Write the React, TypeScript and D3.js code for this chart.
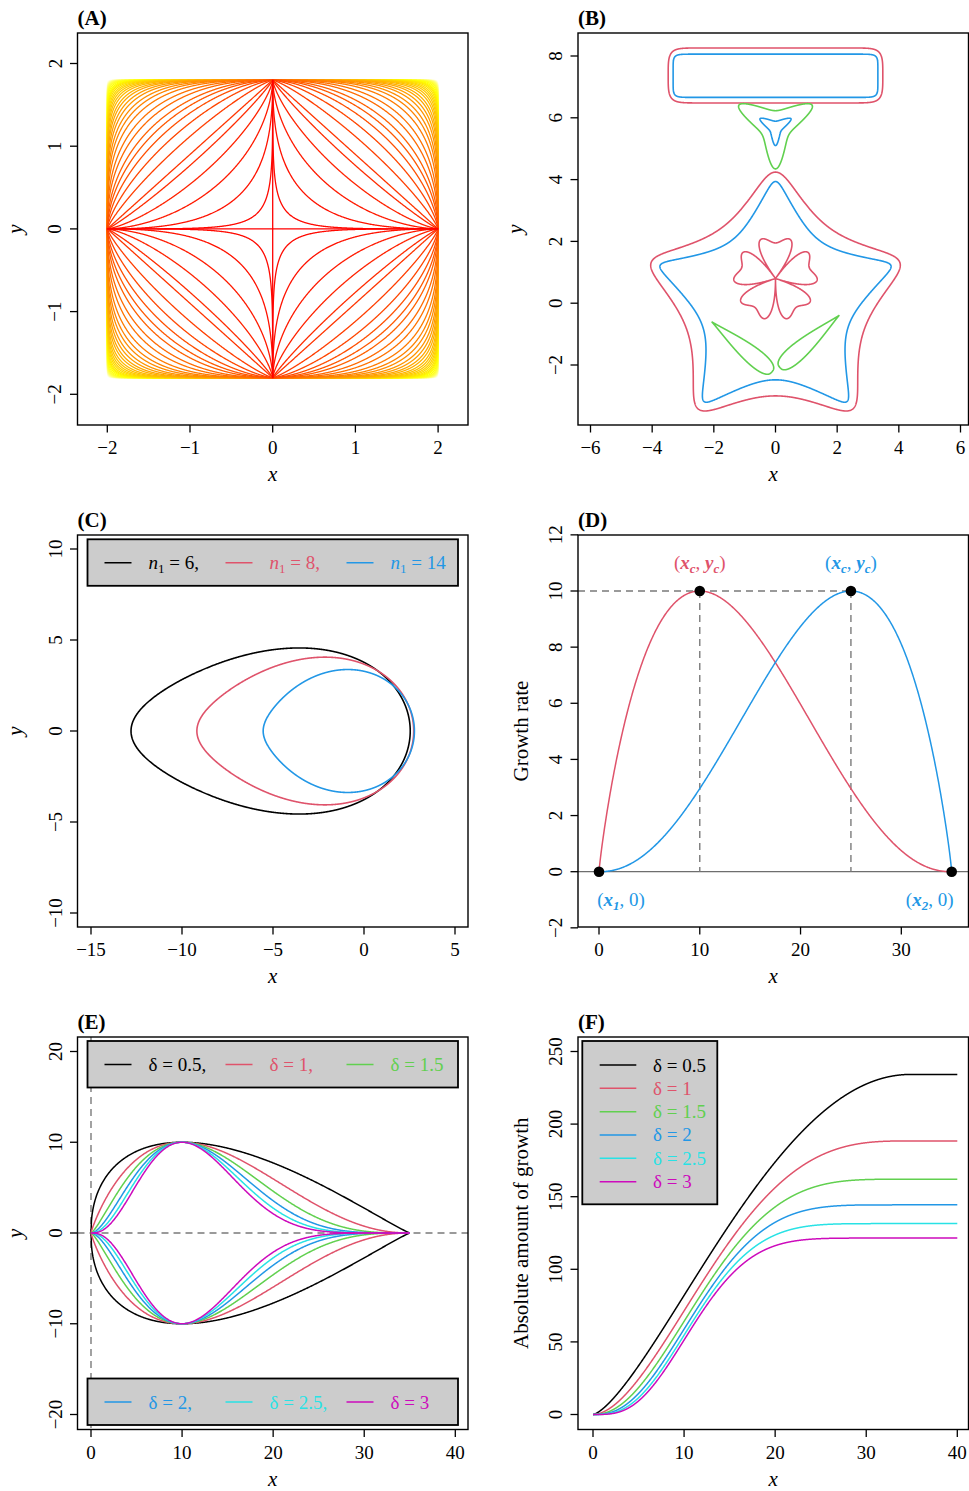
import * as d3 from 'd3';

const FONT = '"Liberation Serif", "Times New Roman", Times, serif';
const BLACK = '#000000';
const RED = '#DF536B';
const GREEN = '#61D04F';
const BLUE = '#2297E6';
const CYAN = '#28E2E5';
const MAGENTA = '#CD0BBC';
const DASH = '#7A7A7A';
const LEGEND_BG = '#CCCCCC';

// (A) superellipses |x/a|^n + |y/b|^n = 1
const superA = 2;
const superB = 1.8;
const superN = [
  0.1, 0.3, 0.45, 0.6, 0.75, 0.9, 1, 1.2, 1.4, 1.6, 1.8, 2, 2.3, 2.6, 3, 3.4, 3.8, 4.3, 4.8, 5.4,
  6, 6.8, 7.6, 8.5, 9.5, 10.6, 12, 13.5, 15, 17, 20, 24, 28, 33, 38, 44, 50, 60, 75, 100,
];

// (B) Gielis polygons, rounded rectangles, flower and leaves
const gielisShapes = [
  { id: 'pentOuter', m: 5, n1: 8, n2: 10, n3: 10, r0: 3.0, cx: 0, cy: 0, rot: 54 },
  { id: 'pentInner', m: 5, n1: 13.5, n2: 20, n3: 20, r0: 2.48, cx: 0, cy: 0, rot: 54 },
  { id: 'triOuter', m: 3, n1: 3.5, n2: 12, n3: 12, r0: 0.51, cx: 0, cy: 5.72, rot: 90 },
  { id: 'triInner', m: 3, n1: 4.1, n2: 14, n3: 14, r0: 0.21, cx: 0, cy: 5.68, rot: 90 },
];
const lameShapes = [
  { id: 'rectOuter', a: 3.48, b: 0.89, p: 20, q: 4, cx: 0, cy: 7.37 },
  { id: 'rectInner', a: 3.32, b: 0.7, p: 30, q: 7, cx: 0, cy: 7.36 },
];
const flowerCentre = [0, 0.8];
const flowerPetals = 5;
const flowerR0 = 1.15;
const flowerLobe = 2.31;
const flowerPow = 0.85;
const leafBases = [[-0.11, -2.22], [0.14, -2.08]];
const leafTips = [[-2.07, -0.6], [2.07, -0.39]];
const leafHalfWidth = 0.28;
const leafPeakAt = 0.25;
const leafDelta = 0.5;

// (C) egg curves, Gielis equation with m = 1
const eggN1 = [6, 8, 14];
const eggN2 = 30;
const eggScale = [2.54, 2.73, 2.77];

// (D) beta growth-rate curves
const rateX1 = 0;
const rateX2 = 35;
const rateYc = 10;
const rateXc = [10, 25];
const rateShape = 3.1;

// (E), (F) effect of delta
const deltas = [0.5, 1, 1.5, 2, 2.5, 3];
const deltaXc = 10;

const shapeColor: Record<string, string> = {
  pentOuter: RED, pentInner: BLUE, triOuter: GREEN, triInner: BLUE, rectOuter: RED, rectInner: BLUE,
};
const eggColors = [BLACK, RED, BLUE];
const rateColors = [RED, BLUE];
const deltaColors = [BLACK, RED, GREEN, BLUE, CYAN, MAGENTA];

const COL1 = [77.5, 468];
const COL2 = [578, 968.5];
const ROW1 = [33, 425];
const ROW2 = [535, 927];
const ROW3 = [1037, 1429.5];

const TICK_FS = 19;
const TITLE_FS = 21;
const LEG_FS = 19;

type Pt = number[];

function heatColors(n: number) {
  const j = Math.floor(n / 4);
  const i = n - j;
  const cols: string[] = [];
  for (let k = 0; k < i; k++) {
    const h = i > 1 ? k / (i - 1) / 6 : 0;
    cols.push(d3.rgb(255, Math.round(255 * 6 * h), 0).formatHex());
  }
  const s0 = 1 - 1 / (2 * j);
  const s1 = 1 / (2 * j);
  for (let k = 0; k < j; k++) {
    const s = j > 1 ? s0 + (k * (s1 - s0)) / (j - 1) : s0;
    cols.push(d3.rgb(255, 255, Math.round(255 * (1 - s))).formatHex());
  }
  return cols;
}

function superellipse(n: number): Pt[] {
  return d3.range(0, 2400).map((k) => {
    const t = (k / 2400) * 2 * Math.PI;
    const c = Math.cos(t);
    const s = Math.sin(t);
    return [superA * Math.sign(c) * Math.abs(c) ** (2 / n), superB * Math.sign(s) * Math.abs(s) ** (2 / n)];
  });
}

function gielisCurve(m: number, n1: number, n2: number, n3: number, r0: number, cx: number, cy: number, rot: number): Pt[] {
  return d3.range(0, 2400).map((k) => {
    const th = (k / 2400) * 2 * Math.PI;
    const u = (m * th) / 4;
    const r = r0 * Math.pow(Math.abs(Math.cos(u)) ** n2 + Math.abs(Math.sin(u)) ** n3, -1 / n1);
    const a = th + (rot * Math.PI) / 180;
    return [cx + r * Math.cos(a), cy + r * Math.sin(a)];
  });
}

function lameCurve(a: number, b: number, p: number, q: number, cx: number, cy: number): Pt[] {
  return d3.range(0, 2400).map((k) => {
    const t = (k / 2400) * 2 * Math.PI;
    const c = Math.cos(t);
    const s = Math.sin(t);
    return [cx + a * Math.sign(c) * Math.abs(c) ** (2 / p), cy + b * Math.sign(s) * Math.abs(s) ** (2 / q)];
  });
}

function flowerCurve(): Pt[] {
  const seg = (2 * Math.PI) / flowerPetals;
  return d3.range(0, 3000).map((k) => {
    const th = (k / 3000) * 2 * Math.PI;
    let psi = (((th - Math.PI / 2) % seg) + seg) % seg;
    if (psi > seg / 2) psi -= seg;
    const u = psi / (seg / 2);
    const r = flowerR0 * Math.pow(Math.cos((Math.PI * u) / 2), flowerPow) * (1 + flowerLobe * u * u);
    return [flowerCentre[0] + r * Math.cos(th), flowerCentre[1] + r * Math.sin(th)];
  });
}

// beta equation: zero at x1 and x2, maximum yc at xc
function betaRate(x: number, x1: number, xc: number, x2: number, yc: number, delta: number) {
  if (x <= x1 || x >= x2) return 0;
  const k = (rateShape * delta) / (x2 - x1);
  return yc * Math.pow((x2 - x) / (x2 - xc), k * (x2 - xc)) * Math.pow((x - x1) / (xc - x1), k * (xc - x1));
}

function leafCurve(base: Pt, tip: Pt): Pt[] {
  const dx = tip[0] - base[0];
  const dy = tip[1] - base[1];
  const len = Math.hypot(dx, dy);
  const ux = dx / len, uy = dy / len, nx = -uy, ny = ux;
  const s = d3.range(0, 401).map((k) => (k / 400) * len);
  const w = s.map((v) => betaRate(v, 0, leafPeakAt * len, len, leafHalfWidth, leafDelta));
  const upper = s.map((v, i) => [base[0] + ux * v + nx * w[i], base[1] + uy * v + ny * w[i]]);
  const lower = s.map((v, i) => [base[0] + ux * v - nx * w[i], base[1] + uy * v - ny * w[i]]).reverse();
  return upper.concat(lower);
}

function cumulative(delta: number): Pt[] {
  const step = 0.02;
  const xs = d3.range(0, 40 + step / 2, step);
  let acc = 0;
  let prev = betaRate(0, rateX1, deltaXc, rateX2, rateYc, delta);
  return xs.map((x, i) => {
    if (i > 0) {
      const cur = betaRate(x, rateX1, deltaXc, rateX2, rateYc, delta);
      acc += ((prev + cur) / 2) * step;
      prev = cur;
    }
    return [x, acc];
  });
}

type Scale = d3.ScaleLinear<number, number>;

function Panel(props: {
  id: string; col: number[]; row: number[];
  xDom: number[]; xRng: number[]; yDom: number[]; yRng: number[];
  xTicks: number[]; yTicks: number[]; yTitle: string; yItalic?: boolean;
  draw: (xs: Scale, ys: Scale) => any;
}) {
  const { id, col, row, xDom, xRng, yDom, yRng, xTicks, yTicks, yTitle, yItalic, draw } = props;
  const [L, R] = col;
  const [T, B] = row;
  const xs = d3.scaleLinear().domain(xDom).range(xRng);
  const ys = d3.scaleLinear().domain(yDom).range(yRng);
  const fmt = d3.format('d');
  const yTitleX = yItalic ? L - 56 : L - 50;
  return (
    <g>
      <defs>
        <clipPath id={`clip-${id}`}>
          <rect x={L} y={T} width={R - L} height={B - T} />
        </clipPath>
      </defs>
      <g clipPath={`url(#clip-${id})`}>{draw(xs, ys)}</g>
      <rect x={L} y={T} width={R - L} height={B - T} fill="none" stroke="#000" strokeWidth={1.4} />
      {xTicks.map((t) => (
        <g key={`x${t}`}>
          <line x1={xs(t)} x2={xs(t)} y1={B} y2={B + 7.5} stroke="#000" strokeWidth={1.3} />
          <text x={xs(t)} y={B + 29} textAnchor="middle" fontSize={TICK_FS}>{fmt(t)}</text>
        </g>
      ))}
      {yTicks.map((t) => (
        <g key={`y${t}`}>
          <line x1={L - 7.5} x2={L} y1={ys(t)} y2={ys(t)} stroke="#000" strokeWidth={1.3} />
          <text transform={`rotate(-90 ${L - 16} ${ys(t)})`} x={L - 16} y={ys(t)} textAnchor="middle" fontSize={TICK_FS}>
            {fmt(t)}
          </text>
        </g>
      ))}
      <text x={L} y={T - 8} fontSize={21} fontWeight="bold">({id})</text>
      <text x={(L + R) / 2} y={B + 56} textAnchor="middle" fontSize={TITLE_FS} fontStyle="italic">x</text>
      <text
        transform={`rotate(-90 ${yTitleX} ${(T + B) / 2})`}
        x={yTitleX}
        y={(T + B) / 2}
        textAnchor="middle"
        fontSize={TITLE_FS}
        fontStyle={yItalic ? 'italic' : 'normal'}
      >
        {yTitle}
      </text>
    </g>
  );
}

function RowLegend({ L, R, top, items }: { L: number; R: number; top: number; items: { color: string; label: any }[] }) {
  const offs = [0, 121, 242];
  return (
    <g>
      <rect x={L + 10} y={top} width={R - L - 20} height={46.5} fill={LEGEND_BG} stroke="#000" strokeWidth={1.8} />
      {items.map((it, i) => (
        <g key={i}>
          <line x1={L + 27 + offs[i]} x2={L + 54 + offs[i]} y1={top + 23.5} y2={top + 23.5} stroke={it.color} strokeWidth={1.5} />
          <text x={L + 71 + offs[i]} y={top + 30} fontSize={LEG_FS} fill={it.color}>{it.label}</text>
        </g>
      ))}
    </g>
  );
}

const closed = (xs: Scale, ys: Scale) =>
  d3.line<Pt>().x((d) => xs(d[0])).y((d) => ys(d[1])).curve(d3.curveLinearClosed);
const open = (xs: Scale, ys: Scale) => d3.line<Pt>().x((d) => xs(d[0])).y((d) => ys(d[1]));

function PanelA() {
  const colors = heatColors(superN.length);
  const order = superN.map((n, i) => i).reverse();
  return (
    <Panel
      id="A" col={COL1} row={ROW1}
      xDom={[-2, 2]} xRng={[107.3, 438.1]} yDom={[-2, 2]} yRng={[394.3, 63.5]}
      xTicks={[-2, -1, 0, 1, 2]} yTicks={[-2, -1, 0, 1, 2]} yTitle="y" yItalic
      draw={(xs, ys) => {
        const line = closed(xs, ys);
        return order.map((i) => (
          <path key={i} d={line(superellipse(superN[i])) ?? ''} fill="none" stroke={colors[i]} strokeWidth={1.3} />
        ));
      }}
    />
  );
}

function PanelB() {
  return (
    <Panel
      id="B" col={COL2} row={ROW1}
      xDom={[-6, 6]} xRng={[590.5, 960.5]} yDom={[-2, 8]} yRng={[365, 56]}
      xTicks={[-6, -4, -2, 0, 2, 4, 6]} yTicks={[-2, 0, 2, 4, 6, 8]} yTitle="y" yItalic
      draw={(xs, ys) => {
        const line = closed(xs, ys);
        return (
          <g fill="none" strokeWidth={1.6}>
            {lameShapes.map((s) => (
              <path key={s.id} d={line(lameCurve(s.a, s.b, s.p, s.q, s.cx, s.cy)) ?? ''} stroke={shapeColor[s.id]} />
            ))}
            {gielisShapes.map((s) => (
              <path key={s.id} d={line(gielisCurve(s.m, s.n1, s.n2, s.n3, s.r0, s.cx, s.cy, s.rot)) ?? ''} stroke={shapeColor[s.id]} />
            ))}
            <path d={line(flowerCurve()) ?? ''} stroke={RED} />
            {leafBases.map((b, i) => (
              <path key={i} d={line(leafCurve(b, leafTips[i])) ?? ''} stroke={GREEN} />
            ))}
          </g>
        );
      }}
    />
  );
}

function nLabel(v: number, last: boolean) {
  return (
    <>
      <tspan fontStyle="italic">n</tspan>
      <tspan fontSize={13} dy={4}>1</tspan>
      <tspan dy={-4}>{` = ${v}${last ? '' : ','}`}</tspan>
    </>
  );
}

function PanelC() {
  const [L, R] = COL1;
  return (
    <Panel
      id="C" col={COL1} row={ROW2}
      xDom={[-15, 5]} xRng={[91, 455]} yDom={[-10, 10]} yRng={[913, 549]}
      xTicks={[-15, -10, -5, 0, 5]} yTicks={[-10, -5, 0, 5, 10]} yTitle="y" yItalic
      draw={(xs, ys) => {
        const line = closed(xs, ys);
        return (
          <g>
            {eggN1.map((n1, i) => (
              <path key={i} d={line(gielisCurve(1, n1, eggN2, eggN2, eggScale[i], 0, 0, 0)) ?? ''} fill="none" stroke={eggColors[i]} strokeWidth={1.6} />
            ))}
            <RowLegend L={L} R={R} top={ROW2[0] + 4.3} items={eggN1.map((n1, i) => ({ color: eggColors[i], label: nLabel(n1, i === eggN1.length - 1) }))} />
          </g>
        );
      }}
    />
  );
}

function BoldSym({ s, sub }: { s: string; sub: string }) {
  return (
    <>
      <tspan fontWeight="bold" fontStyle="italic">{s}</tspan>
      <tspan fontWeight="bold" fontStyle="italic" fontSize={13} dy={4}>{sub}</tspan>
    </>
  );
}

function PanelD() {
  const xsamp = d3.range(0, rateX2 + 0.001, 0.05);
  return (
    <Panel
      id="D" col={COL2} row={ROW2}
      xDom={[0, 35]} xRng={[599, 951.7]} yDom={[0, 10]} yRng={[871.7, 591]}
      xTicks={[0, 10, 20, 30]} yTicks={[-2, 0, 2, 4, 6, 8, 10, 12]} yTitle="Growth rate"
      draw={(xs, ys) => {
        const line = open(xs, ys);
        const [L, R] = COL2;
        return (
          <g>
            <line x1={L} x2={R} y1={ys(0)} y2={ys(0)} stroke="#6E6E6E" strokeWidth={1.3} />
            <line x1={L} x2={xs(rateXc[1])} y1={ys(rateYc)} y2={ys(rateYc)} stroke={DASH} strokeWidth={1.4} strokeDasharray="7 5" />
            {rateXc.map((xc) => (
              <line key={xc} x1={xs(xc)} x2={xs(xc)} y1={ys(rateYc)} y2={ys(0)} stroke={DASH} strokeWidth={1.4} strokeDasharray="7 5" />
            ))}
            {rateXc.map((xc, i) => (
              <path key={i} d={line(xsamp.map((x) => [x, betaRate(x, rateX1, xc, rateX2, rateYc, 1)])) ?? ''} fill="none" stroke={rateColors[i]} strokeWidth={1.5} />
            ))}
            {[[rateX1, 0], [rateXc[0], rateYc], [rateXc[1], rateYc], [rateX2, 0]].map((p, i) => (
              <circle key={i} cx={xs(p[0])} cy={ys(p[1])} r={5.3} fill="#000" />
            ))}
            {rateXc.map((xc, i) => (
              <text key={i} x={xs(xc)} y={ys(rateYc) - 22} textAnchor="middle" fontSize={LEG_FS} fill={rateColors[i]}>
                (<BoldSym s="x" sub="c" /><tspan dy={-4}>, </tspan><BoldSym s="y" sub="c" /><tspan dy={-4}>)</tspan>
              </text>
            ))}
            <text x={xs(rateX1) + 22} y={ys(0) + 34} textAnchor="middle" fontSize={LEG_FS} fill={BLUE}>
              (<BoldSym s="x" sub="1" /><tspan dy={-4}>, 0)</tspan>
            </text>
            <text x={xs(rateX2) - 22} y={ys(0) + 34} textAnchor="middle" fontSize={LEG_FS} fill={BLUE}>
              (<BoldSym s="x" sub="2" /><tspan dy={-4}>, 0)</tspan>
            </text>
          </g>
        );
      }}
    />
  );
}

function PanelE() {
  const xsamp = d3.range(0, rateX2 + 0.001, 0.05);
  const [L, R] = COL1;
  const label = (d: number, last: boolean) => `δ = ${d}${last ? '' : ','}`;
  return (
    <Panel
      id="E" col={COL1} row={ROW3}
      xDom={[0, 40]} xRng={[91, 455.3]} yDom={[-20, 20]} yRng={[1414.5, 1051.5]}
      xTicks={[0, 10, 20, 30, 40]} yTicks={[-20, -10, 0, 10, 20]} yTitle="y" yItalic
      draw={(xs, ys) => {
        const line = open(xs, ys);
        return (
          <g>
            <line x1={xs(0)} x2={xs(0)} y1={ROW3[0]} y2={ROW3[1]} stroke={DASH} strokeWidth={1.4} strokeDasharray="7 5" />
            <line x1={L} x2={R} y1={ys(0)} y2={ys(0)} stroke={DASH} strokeWidth={1.4} strokeDasharray="7 5" />
            {deltas.map((d, i) => {
              const up = xsamp.map((x) => [x, betaRate(x, rateX1, deltaXc, rateX2, rateYc, d)]);
              const down = up.map((p) => [p[0], -p[1]]);
              return (
                <g key={i} fill="none" stroke={deltaColors[i]} strokeWidth={1.5}>
                  <path d={line(up) ?? ''} />
                  <path d={line(down) ?? ''} />
                </g>
              );
            })}
            <RowLegend L={L} R={R} top={ROW3[0] + 4} items={deltas.slice(0, 3).map((d, i) => ({ color: deltaColors[i], label: label(d, i === 2) }))} />
            <RowLegend L={L} R={R} top={ROW3[1] - 51} items={deltas.slice(3).map((d, i) => ({ color: deltaColors[i + 3], label: label(d, i === 2) }))} />
          </g>
        );
      }}
    />
  );
}

function PanelF() {
  const [L] = COL2;
  const T = ROW3[0];
  return (
    <Panel
      id="F" col={COL2} row={ROW3}
      xDom={[0, 40]} xRng={[593, 957.3]} yDom={[0, 250]} yRng={[1414.5, 1051.5]}
      xTicks={[0, 10, 20, 30, 40]} yTicks={[0, 50, 100, 150, 200, 250]} yTitle="Absolute amount of growth"
      draw={(xs, ys) => {
        const line = open(xs, ys);
        return (
          <g>
            {deltas.map((d, i) => (
              <path key={i} d={line(cumulative(d)) ?? ''} fill="none" stroke={deltaColors[i]} strokeWidth={1.5} />
            ))}
            <rect x={L + 4.3} y={T + 4} width={135} height={163.3} fill={LEGEND_BG} stroke="#000" strokeWidth={1.8} />
            {deltas.map((d, i) => {
              const y = T + 28 + i * 23.33;
              return (
                <g key={`lg${i}`}>
                  <line x1={L + 21.7} x2={L + 58.3} y1={y} y2={y} stroke={deltaColors[i]} strokeWidth={1.5} />
                  <text x={L + 75} y={y + 6.5} fontSize={LEG_FS} fill={deltaColors[i]}>{`δ = ${d}`}</text>
                </g>
              );
            })}
          </g>
        );
      }}
    />
  );
}

export default function App() {
  return (
    <svg
      width={969}
      height={1491}
      viewBox="0 0 969 1491"
      style={{ position: 'absolute', left: 0, top: 0, background: '#fff' }}
      fontFamily={FONT}
    >
      <rect width={969} height={1491} fill="#fff" />
      <PanelA />
      <PanelB />
      <PanelC />
      <PanelD />
      <PanelE />
      <PanelF />
    </svg>
  );
}
